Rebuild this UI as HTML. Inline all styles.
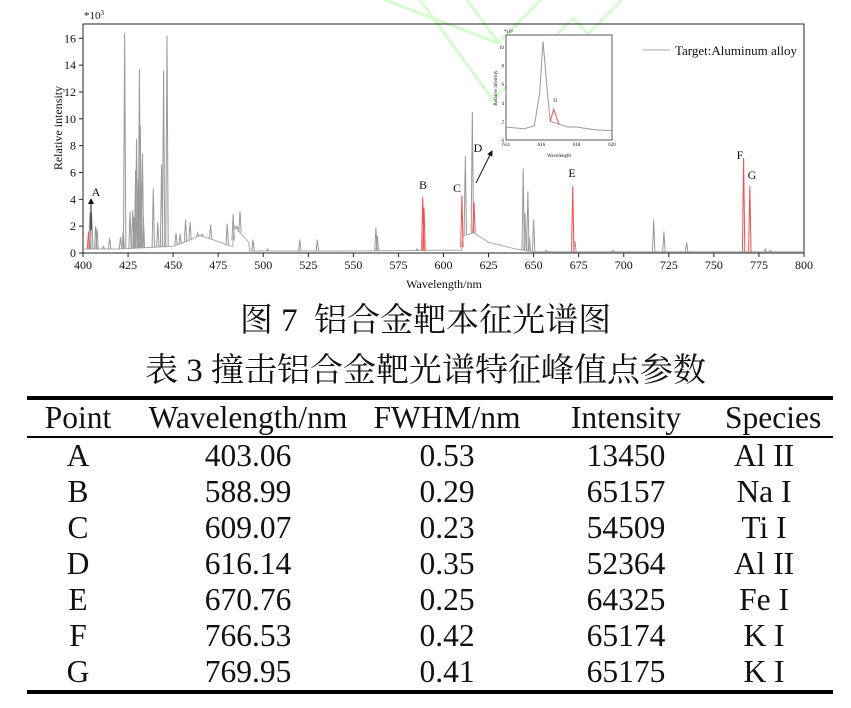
<!DOCTYPE html>
<html><head><meta charset="utf-8"><style>
body{margin:0;background:#fff;width:851px;height:708px;overflow:hidden;position:relative;font-family:"Liberation Serif","Noto Serif CJK SC",serif}
.cap{position:absolute;left:0;width:851px;text-align:center;font-size:33px;line-height:40px;font-family:"Liberation Serif","Noto Serif CJK SC",serif;color:#111}
table{position:absolute;left:27px;top:396px;width:806px;border-collapse:collapse;table-layout:fixed;font-size:31.5px;color:#111}
td{text-align:center;padding:0;height:36px;line-height:36px;white-space:nowrap;overflow:visible}
td:last-child{padding-right:30px}
</style></head><body>
<svg id="chart" width="851" height="300" style="position:absolute;left:0;top:0" font-family="Liberation Serif, serif"></svg>
<div class="cap" style="top:301px">图 7&nbsp; 铝合金靶本征光谱图</div>
<div class="cap" style="top:351px">表 3 撞击铝合金靶光谱特征峰值点参数</div>
<table>
<colgroup><col style="width:102px"><col style="width:238px"><col style="width:160px"><col style="width:198px"><col style="width:108px"></colgroup>
<tr style="border-top:4px solid #000;border-bottom:2px solid #000"><td>Point</td><td>Wavelength/nm</td><td>FWHM/nm</td><td>Intensity</td><td>Species</td></tr>
<tr><td>A</td><td>403.06</td><td>0.53</td><td>13450</td><td>Al II</td></tr>
<tr><td>B</td><td>588.99</td><td>0.29</td><td>65157</td><td>Na I</td></tr>
<tr><td>C</td><td>609.07</td><td>0.23</td><td>54509</td><td>Ti I</td></tr>
<tr><td>D</td><td>616.14</td><td>0.35</td><td>52364</td><td>Al II</td></tr>
<tr><td>E</td><td>670.76</td><td>0.25</td><td>64325</td><td>Fe I</td></tr>
<tr><td>F</td><td>766.53</td><td>0.42</td><td>65174</td><td>K I</td></tr>
<tr style="border-bottom:4px solid #000"><td>G</td><td>769.95</td><td>0.41</td><td>65175</td><td>K I</td></tr>
</table>
<script>
const grayWl=[403.8,404.8,407,407.8,411.3,414.8,420.8,422.3,423.1,426.1,427.6,428.4,429.2,429.7,430.7,431.3,431.8,433,433.5,439,441.5,443.6,444.7,446.6,451.6,453.9,456.9,459.4,463.6,466.1,470.8,480,483.3,485.4,487.1,494.3,502.3,520.3,530,562.5,563.3,585.3,612.1,616.0,644.2,645.2,646.8,647.6,650,657,672.9,694,716.6,722.3,734.9,778.5,781.4];
const grayVal=[3.0,3.0,2.0,1.8,0.5,1.1,1.2,1.6,16.4,3.1,3.2,2.7,6.2,8.5,5.5,13.7,9.5,7.4,2.7,4.8,2.3,6.6,13.6,16.2,1.5,1.4,2.5,2.3,1.5,1.4,2.1,2.2,2.9,2.0,3.1,1.0,0.3,1.0,1.0,1.9,1.3,0.3,7.2,10.5,6.3,3.0,4.6,1.2,2.5,0.2,0.9,0.2,2.5,1.6,0.8,0.3,0.2];
const redWl=[403.06,588.5,589.2,610.2,616.9,671.7,766.5,769.95];
const redVal=[1.6,4.2,3.4,4.3,3.8,5.0,7.1,5.0];
const contWl=[400,420,450,458,465,472,480,483,484,492,492.5,540,600,610,611,617,625,640,650,800];
const contVal=[0.3,0.3,0.5,0.9,1.3,1.0,0.6,0.5,2.0,0.8,0.15,0.15,0.2,0.2,1.3,1.5,0.8,0.3,0.1,0.1];
const xTicks=[400,425,450,475,500,525,550,575,600,625,650,675,700,725,750,775,800];
const yTicks=[0,2,4,6,8,10,12,14,16];
const insetWl=[614,615,615.6,615.9,616.1,616.3,616.5,616.7,617,617.5,618,619,620];
const insetVal=[1.4,1.2,1.5,5,10.6,6,2.0,3.3,1.7,1.4,1.4,1.1,1.0];
const insetXTicks=[614,616,618,620];
const insetYTicks=[0,2,4,6,8,10];
const labelNames=['A','B','C','D','E','F','G'];

const NS='http://www.w3.org/2000/svg';
const svg=document.getElementById('chart');
const L=83,R=804,T=24,B=253;
const xs=w=>L+(w-400)/400*(R-L);
const ys=v=>B-v*13.42;
function mk(t,a,parent){const e=document.createElementNS(NS,t);for(const k in a)e.setAttribute(k,a[k]);(parent||svg).appendChild(e);return e;}
const wm=mk('path',{d:'M385 0 L498 43 L541 0 M420 0 L493 100 L573 18 L588 34 L622 0 M467 0 L498 42',stroke:'#d8fad2','stroke-width':3,fill:'none'});


const fr=mk('rect',{x:L,y:T,width:R-L,height:B-T,fill:'none',stroke:'#222','stroke-width':1});


let d='';contWl.forEach((w,i)=>{d+=(i?'L':'M')+xs(w).toFixed(1)+' '+ys(contVal[i]).toFixed(1);});
const cont=mk('path',{d,stroke:'#aaa','stroke-width':1,fill:'none'});


function base(w){for(let i=1;i<contWl.length;i++){if(w<=contWl[i]){const t=(w-contWl[i-1])/(contWl[i]-contWl[i-1]||1);return contVal[i-1]+t*(contVal[i]-contVal[i-1]);}}return 0.1;}
function peak(w,v,col,name){const x=xs(w),b=ys(base(w));
 const p=mk('path',{d:`M${x-1.2} ${b} L${x} ${ys(v)} L${x+1.2} ${b}`,stroke:col,'stroke-width':1,fill:'none'});
 
 }
grayWl.forEach((w,i)=>peak(w,grayVal[i],'#999','spectrum-peak'));
redWl.forEach((w,i)=>peak(w,redVal[i],'#f05050','marked-peak'));
xTicks.forEach(t=>{const x=xs(t);mk('line',{x1:x,x2:x,y1:B,y2:B+4,stroke:'#222'});
 const tx=mk('text',{x,y:B+16,'font-size':12,'text-anchor':'middle',fill:'#111'});tx.textContent=t;
 
 });
yTicks.forEach(t=>{const y=ys(t);mk('line',{x1:L-4,x2:L,y1:y,y2:y,stroke:'#222'});
 const tx=mk('text',{x:L-7,y:y+4,'font-size':12,'text-anchor':'end',fill:'#111'});tx.textContent=t;
 
 });
function txt(s,a,name){const e=mk('text',Object.assign({fill:'#111'},a));e.textContent=s;
 
 return e;}
txt('Wavelength/nm',{x:444,y:288,'font-size':12,'text-anchor':'middle'},'x-axis-title');
txt('Relative intensity',{x:62,y:128,'font-size':12,'text-anchor':'middle',transform:'rotate(-90 62 128)'},'y-axis-title');
const sc=txt('*10',{x:84,y:19,'font-size':11},'y-scale-label');
const sup=mk('tspan',{dy:-4,'font-size':7},sc);sup.textContent='3';
const lpos=[[96,196],[423,189],[457,192],[478,152],[572,177],[740,159],[752,179]];
labelNames.forEach((n,i)=>txt(n,{x:lpos[i][0],y:lpos[i][1],'font-size':12,'text-anchor':'middle'},'peak-label-'+n.toLowerCase()));
mk('defs',{}).innerHTML='<marker id="ah" markerWidth="6" markerHeight="6" refX="5" refY="3" orient="auto"><path d="M0 0 L6 3 L0 6z" fill="#111"/></marker>';
const a1=mk('line',{x1:91,y1:230,x2:91,y2:199,stroke:'#111','marker-end':'url(#ah)'});


const a2=mk('line',{x1:476,y1:183,x2:492,y2:151,stroke:'#111','marker-end':'url(#ah)'});


const lg=mk('line',{x1:643,x2:670,y1:50,y2:50,stroke:'#aaa'});


txt('Target:Aluminum alloy',{x:675,y:55,'font-size':13},'legend-entry');
const IL=506,IR=612,IT=35,IB=140;
const ix=w=>IL+(w-614)/6*(IR-IL), iy=v=>IB-v*9.3;
const ib=mk('rect',{x:IL,y:IT,width:IR-IL,height:IB-IT,fill:'#fff',stroke:'#333','stroke-width':0.8});


let d1='',d2='';
insetWl.forEach((w,i)=>{const s=ix(w).toFixed(1)+' '+iy(insetVal[i]).toFixed(1);
 if(w<=616.5)d1+=(d1?'L':'M')+s; if(w>=616.5&&w<=617)d2+=(d2?'L':'M')+s; if(w>=617)d1+='L'+s;});
const ig=mk('path',{d:d1,stroke:'#999',fill:'none','stroke-width':1});


const ir=mk('path',{d:d2,stroke:'#f05050',fill:'none','stroke-width':1});


insetXTicks.forEach(t=>txt(t,{x:ix(t),y:IB+6,'font-size':5,'text-anchor':'middle'},'inset-x-tick'));
insetYTicks.forEach(t=>txt(t,{x:IL-2,y:iy(t)+2,'font-size':5,'text-anchor':'end'},'inset-y-tick'));
txt('D',{x:555,y:102,'font-size':5,'text-anchor':'middle'},'inset-label-d');
txt('Wavelength',{x:559,y:157,'font-size':5,'text-anchor':'middle'},'inset-x-title');
txt('Relative intensity',{x:497,y:88,'font-size':5,'text-anchor':'middle',transform:'rotate(-90 497 88)'},'inset-y-title');
txt('*10³',{x:504,y:33,'font-size':5},'inset-scale');
</script>
</body></html>
